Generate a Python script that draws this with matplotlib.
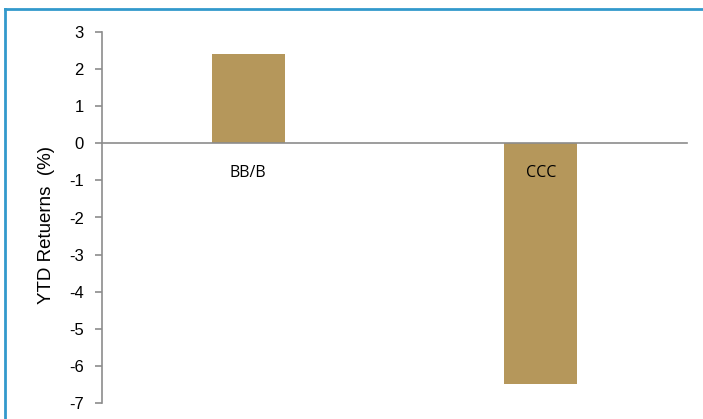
import matplotlib.pyplot as plt
from matplotlib.lines import Line2D

# data
categories = ["BB/B", "CCC"]
ytd_returns = [2.42, -6.5]
y_ticks = [3, 2, 1, 0, -1, -2, -3, -4, -5, -6, -7]

W, H = 703, 419
fig = plt.figure(figsize=(W / 100, H / 100), dpi=100)
ax_w = 687 - 102
ax = fig.add_axes([102 / W, 1 - 403 / H, ax_w / W, (403 - 32) / H])

bar_color = "#B5975B"
axis_color = "#8C8C8C"

x = list(range(len(categories)))
ax.bar(x, ytd_returns, width=0.25, color=bar_color, zorder=2)

ax.set_xlim(-0.5, len(categories) - 0.5)
ax.set_ylim(-7, 3)
ax.set_yticks(y_ticks)
ax.set_yticklabels([str(t) for t in y_ticks], fontfamily="Liberation Sans", fontsize=12)
ax.tick_params(axis="y", direction="out", length=5, width=1.2, color=axis_color, pad=8)
ax.set_xticks([])

for s in ["top", "right"]:
    ax.spines[s].set_visible(False)
ax.spines["left"].set_color(axis_color)
ax.spines["left"].set_linewidth(1.2)
ax.spines["bottom"].set_position(("data", 0))
ax.spines["bottom"].set_color(axis_color)
ax.spines["bottom"].set_linewidth(1.2)
ax.spines["bottom"].set_zorder(3)

for xi, lab in zip(x, categories):
    ax.annotate(lab, xy=(xi, 0), xytext=(0, -30), textcoords="offset pixels",
                ha="center", va="center", fontsize=11.5, fontfamily="Open Sans", zorder=4)

ax.set_ylabel("YTD Retuerns  (%)", fontfamily="Liberation Sans", fontsize=13.5)
ax.yaxis.set_label_coords((55 - 102) / ax_w, 0.48)

# blue frame (top and left edges visible)
border = "#3399CC"
fig.add_artist(Line2D([4.5 / W, 1.0], [1 - 9.5 / H, 1 - 9.5 / H], transform=fig.transFigure,
                      color=border, lw=2))
fig.add_artist(Line2D([4.5 / W, 4.5 / W], [1 - 9.5 / H, 0.0], transform=fig.transFigure,
                      color=border, lw=2))

fig.savefig("out.png", dpi=100)
